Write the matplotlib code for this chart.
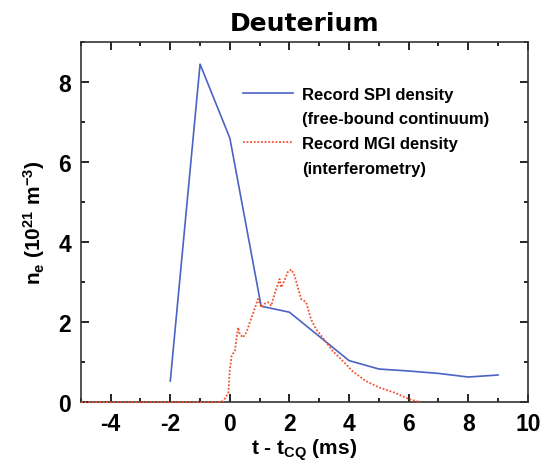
import matplotlib
matplotlib.use("Agg")
import matplotlib.pyplot as plt
from matplotlib.lines import Line2D
from matplotlib.ticker import MultipleLocator

plt.rcParams["font.family"] = ["Liberation Sans", "DejaVu Sans"]
plt.rcParams["mathtext.default"] = "regular"
plt.rcParams["axes.unicode_minus"] = False

# SPI density (free-bound continuum)
spi_t = [-2, -1, 0, 1.05, 2, 4, 5, 6, 7, 8, 9]
spi_ne = [0.53, 8.45, 6.6, 2.4, 2.25, 1.04, 0.83, 0.78, 0.72, 0.63, 0.68]

# MGI density (interferometry)
mgi_t = [-5, -1, -0.4, -0.22, -0.05, 0.0, 0.06, 0.17, 0.22, 0.28, 0.33, 0.44,
         0.56, 0.67, 0.83, 0.94, 1.06, 1.17, 1.28, 1.39, 1.5, 1.67, 1.72, 1.83,
         1.94, 2.06, 2.17, 2.28, 2.39, 2.56, 2.72, 2.89, 3.11, 3.44, 3.78,
         4.11, 4.56, 5.0, 5.56, 6.0, 6.4]
mgi_ne = [0.0, 0.0, 0.0, 0.03, 0.24, 0.83, 1.16, 1.29, 1.58, 1.87, 1.70, 1.62,
          1.75, 2.0, 2.33, 2.58, 2.37, 2.46, 2.50, 2.41, 2.71, 3.08, 2.87, 3.04,
          3.25, 3.32, 3.17, 2.87, 2.58, 2.50, 2.08, 1.83, 1.62, 1.29, 1.04,
          0.78, 0.53, 0.37, 0.23, 0.08, 0.0]

fig = plt.figure(figsize=(5.43, 4.64), dpi=100)
ax = fig.add_axes([0.149, 0.131, 0.823, 0.776])

spi_line, = ax.plot(spi_t, spi_ne, color="#4a63c4", lw=1.2)
mgi_line, = ax.plot(mgi_t, mgi_ne, color="#f5502e", lw=1.3, ls=(0, (1, 1)),
                    clip_on=False, zorder=5)

ax.set_xlim(-5, 10)
ax.set_ylim(0, 9)
ax.xaxis.set_major_locator(MultipleLocator(2))
ax.xaxis.set_minor_locator(MultipleLocator(1))
ax.yaxis.set_major_locator(MultipleLocator(2))
ax.yaxis.set_minor_locator(MultipleLocator(1))
ax.tick_params(which="both", direction="in", top=True, right=True,
               labelsize=16.5, width=1.2, pad=7)
ax.tick_params(which="major", length=6)
ax.tick_params(which="minor", length=3)
for lab in ax.get_xticklabels() + ax.get_yticklabels():
    lab.set_fontweight("bold")
for s in ax.spines.values():
    s.set_linewidth(1.2)
    s.set_color("#333333")

ax.set_xlabel("t - t$_{CQ}$ (ms)", fontsize=15, fontweight="bold", labelpad=1)
ax.set_ylabel("n$_e$ (10$^{21}$ m$^{-3}$)", fontsize=15, fontweight="bold",
              labelpad=8)
ax.set_title("Deuterium", fontsize=18, fontweight="bold", pad=9,
             family="DejaVu Sans")

# handle only on the first row of each two-line entry
blank = Line2D([], [], color="none")
leg = ax.legend([spi_line, blank, mgi_line, blank],
                ["Record SPI density", "(free-bound continuum)",
                 "Record MGI density", "(interferometry)"],
                loc="upper left", bbox_to_anchor=(0.33, 0.918), frameon=False,
                fontsize=12, handlelength=3.0, handletextpad=0.5,
                labelspacing=0.58)
for t in leg.get_texts():
    t.set_fontweight("bold")

fig.savefig("out.png", dpi=100)
